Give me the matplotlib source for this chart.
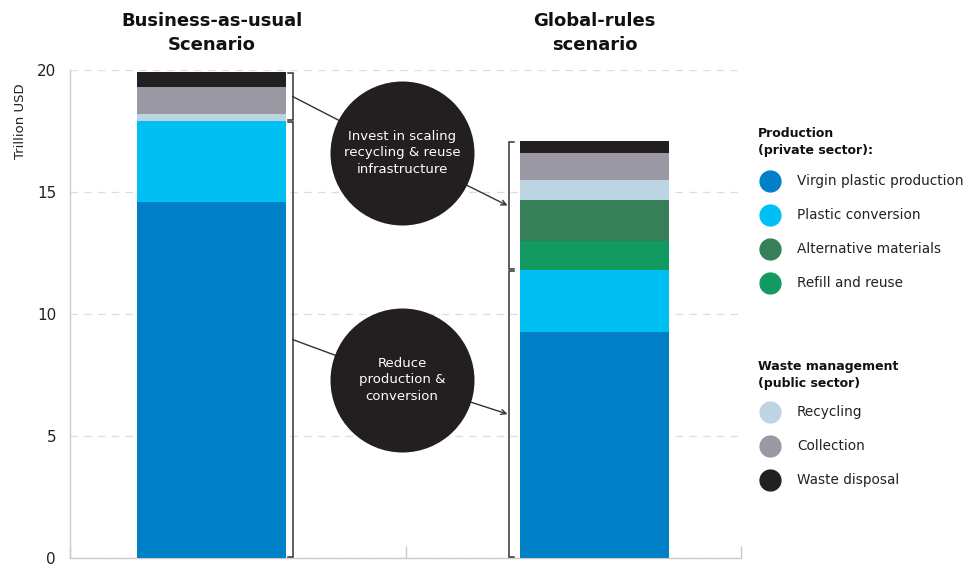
import matplotlib
matplotlib.use('Agg')
from matplotlib import pyplot as plt
from matplotlib import transforms
from matplotlib.lines import Line2D

plt.rcParams['font.family'] = ['DejaVu Sans']

# data (trillion USD), stacked bottom -> top
scenarios = ['Business-as-usual\nScenario', 'Global-rules\nscenario']
segments = ['Virgin plastic production', 'Plastic conversion', 'Refill and reuse',
            'Alternative materials', 'Recycling', 'Collection', 'Waste disposal']
bau_values = [14.6, 3.3, 0.0, 0.0, 0.3, 1.1, 0.62]
global_values = [9.26, 2.54, 1.19, 1.68, 0.82, 1.11, 0.49]
colors = ['#0080c6', '#00bff3', '#129a62', '#377f59', '#bdd5e2', '#9a99a3', '#231f20']
n_reduce = 2  # virgin + conversion -> "reduce" bracket, the rest -> "invest" bracket

prod_legend = ['Virgin plastic production', 'Plastic conversion', 'Alternative materials', 'Refill and reuse']
prod_colors = ['#0080c6', '#00bff3', '#377f59', '#129a62']
waste_legend = ['Recycling', 'Collection', 'Waste disposal']
waste_colors = ['#bdd5e2', '#9a99a3', '#231f20']

bubble_texts = ['Invest in scaling\nrecycling & reuse\ninfrastructure', 'Reduce\nproduction &\nconversion']

W, H = 968, 564
fig = plt.figure(figsize=(W / 100, H / 100), dpi=100)
ax = fig.add_axes([70 / W, 6 / H, 671 / W, 488 / H])

x_pos = [0.422, 1.563]
bar_w = 0.444
for xi, vals in zip(x_pos, [bau_values, global_values]):
    bottom = 0
    for v, c in zip(vals, colors):
        if v > 0:
            ax.bar(xi, v, bar_w, bottom=bottom, color=c, zorder=3, linewidth=0)
        bottom += v

ax.set_xlim(0, 2)
ax.set_ylim(0, 20)
ax.set_yticks([0, 5, 10, 15, 20])
ax.set_xticks([0, 1, 2])
ax.set_xticklabels([])
ax.tick_params(axis='x', direction='in', length=9, color='#cccccc', width=1)
ax.tick_params(axis='y', length=0, labelsize=11, labelcolor='#222222', pad=10)
ax.grid(axis='y', color='#dddddd', linestyle=(0, (6, 5)), linewidth=0.9, zorder=0)
for s in ['top', 'right']:
    ax.spines[s].set_visible(False)
for s in ['left', 'bottom']:
    ax.spines[s].set_color('#cccccc')
    ax.spines[s].set_linewidth(1)

ax.text(-0.0745, 0.895, 'Trillion USD', transform=ax.transAxes, rotation=90,
        ha='center', va='center', fontsize=9.5, color='#222222')

# titles
tr = transforms.blended_transform_factory(ax.transData, fig.transFigure)
for xi, t in zip(x_pos, scenarios):
    fig.text(xi, 1 - 33 / H, t, transform=tr, ha='center', va='center',
             fontsize=13, fontweight='bold', color='#111111', linespacing=1.45)


# brackets
def bracket(x, y0, y1, tick):
    ax.plot([x + tick, x, x, x + tick], [y0 + 0.04, y0 + 0.04, y1 - 0.04, y1 - 0.04],
            color='#333333', lw=1.1, zorder=3, solid_joinstyle='miter')


gap = 0.02
bau_low = sum(bau_values[:n_reduce])
bau_tot = sum(bau_values)
gl_low = sum(global_values[:n_reduce])
gl_tot = sum(global_values)
bx = x_pos[0] + bar_w / 2 + gap
gx = x_pos[1] - bar_w / 2 - gap - 0.013
bracket(bx, 0, bau_low, -0.015)
bracket(bx, bau_low, bau_tot, -0.015)
bracket(gx, 0, gl_low, 0.015)
bracket(gx, gl_low, gl_tot, 0.015)

# bubbles with connectors
bubble_x = 0.99
bubble_y = [16.6, 7.3]
starts = [(bau_low + bau_tot) / 2, bau_low / 2]
ends = [(gl_low + gl_tot) / 2, gl_low / 2]
for by, t, ys, ye in zip(bubble_y, bubble_texts, starts, ends):
    ax.plot([bx, bubble_x], [ys, by], color='#333333', lw=1, zorder=4)
    ax.annotate('', xy=(gx - 0.004, ye), xytext=(bubble_x, by),
                arrowprops=dict(arrowstyle='->', color='#333333', lw=1,
                                shrinkA=0, shrinkB=0, mutation_scale=9), zorder=4)
    ax.scatter([bubble_x], [by], s=10750, color='#231f20', zorder=5, linewidths=0)
    ax.text(bubble_x, by, t, ha='center', va='center', color='white',
            fontsize=9.5, linespacing=1.35, zorder=6)

# legend
lx_dot, lx_text, lx_head = 770 / W, 797 / W, 758 / W
step = 34


def legend_block(head, head_y, labels, cols, first_y):
    fig.text(lx_head, 1 - head_y / H, head, ha='left', va='center', fontsize=9,
             fontweight='bold', color='#111111', linespacing=1.4)
    for i, (lab, c) in enumerate(zip(labels, cols)):
        yy = 1 - (first_y + i * step) / H
        fig.add_artist(Line2D([lx_dot], [yy], marker='o', markersize=15, color=c,
                              linestyle='none', transform=fig.transFigure))
        fig.text(lx_text, yy, lab, ha='left', va='center', fontsize=9.8, color='#222222')


legend_block('Production\n(private sector):', 142, prod_legend, prod_colors, 181)
legend_block('Waste management\n(public sector)', 375, waste_legend, waste_colors, 412)

fig.savefig('out.png', dpi=100)
